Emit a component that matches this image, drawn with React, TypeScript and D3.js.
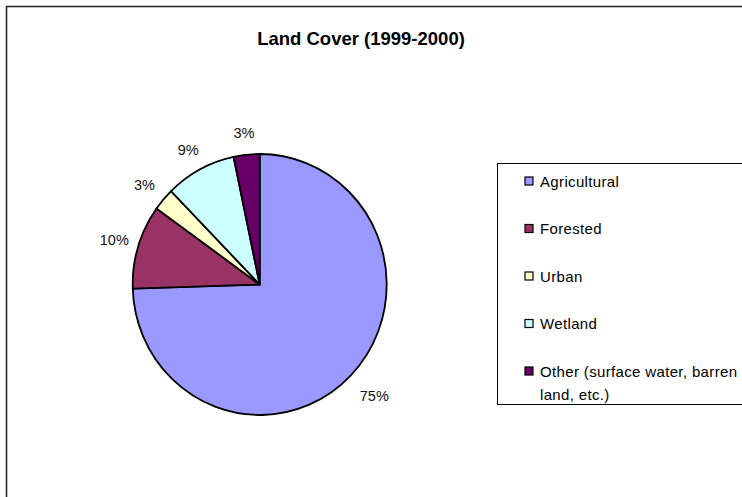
import React from 'react';
import * as d3 from 'd3';

const categories = ['Agricultural', 'Forested', 'Urban', 'Wetland', 'Other (surface water, barren land, etc.)'];
const shares = [74.5, 10.4, 2.8, 9.0, 3.3];
const sliceColors = ['#9999FF', '#993366', '#FFFFCC', '#CCFFFF', '#660066'];
const legendLines = [['Agricultural'], ['Forested'], ['Urban'], ['Wetland'], ['Other (surface water, barren', 'land, etc.)']];

interface Slice {
  name: string;
  value: number;
  color: string;
}

const W = 742;
const H = 497;

const App: React.FC = () => {
  const ref = React.useRef<SVGSVGElement>(null);

  React.useEffect(() => {
    document.body.style.margin = '0';
    if (!ref.current) return;
    const svg = d3.select(ref.current);
    svg.selectAll('*').remove();

    const font = '"Liberation Sans", Arial, sans-serif';

    // chart frame (right and bottom run off the page)
    svg.append('rect')
      .attr('x', 6.5).attr('y', 6.5)
      .attr('width', W + 20).attr('height', H + 20)
      .attr('fill', '#fff')
      .attr('stroke', '#2a2a2a')
      .attr('stroke-width', 1.6);

    svg.append('text')
      .attr('x', 361).attr('y', 45)
      .attr('text-anchor', 'middle')
      .style('font-family', font)
      .style('font-weight', 'bold')
      .style('font-size', '18.5px')
      .text('Land Cover (1999-2000)');

    const data: Slice[] = categories.map((c, i) => ({ name: c, value: shares[i], color: sliceColors[i] }));

    const cx = 259.7;
    const cy = 284.5;
    const rx = 127;
    const ry = 130.5;

    const pie = d3.pie<Slice>().sort(null).value(d => d.value).startAngle(0);
    const arcs = pie(data);

    const arc = d3.arc<d3.PieArcDatum<Slice>>().innerRadius(0).outerRadius(rx);

    const g = svg.append('g')
      .attr('transform', `translate(${cx},${cy}) scale(1,${ry / rx})`);

    g.selectAll('path')
      .data(arcs)
      .join('path')
      .attr('d', arc)
      .attr('fill', d => d.data.color)
      .attr('stroke', '#000')
      .attr('stroke-width', 1.8)
      .attr('stroke-linejoin', 'round');

    // outside-end labels
    const labelR = 152;
    const labelArc = d3.arc<d3.PieArcDatum<Slice>>().innerRadius(labelR).outerRadius(labelR);

    svg.append('g')
      .attr('transform', `translate(${cx},${cy})`)
      .selectAll('text')
      .data(arcs)
      .join('text')
      .attr('transform', d => {
        const [x, y] = labelArc.centroid(d);
        const extra = d.data.value > 50 ? 1.05 : 1;
        return `translate(${x * extra},${y * extra})`;
      })
      .attr('dy', '0.35em')
      .attr('text-anchor', 'middle')
      .style('font-family', font)
      .style('font-size', '14.5px')
      .attr('fill', '#111')
      .text(d => `${Math.round(d.data.value)}%`);

    // legend
    const legendX = 497.5;
    const legendTop = 163.5;
    const legendBottom = 404.5;
    const rowStep = 47.5;
    const firstRow = 181;

    svg.append('rect')
      .attr('x', legendX).attr('y', legendTop)
      .attr('width', W).attr('height', legendBottom - legendTop)
      .attr('fill', '#fff')
      .attr('stroke', '#000')
      .attr('stroke-width', 1);

    const rows = svg.append('g')
      .selectAll('g')
      .data(data)
      .join('g')
      .attr('transform', (_, i) => `translate(0,${firstRow + i * rowStep})`);

    rows.append('rect')
      .attr('x', 525).attr('y', -4)
      .attr('width', 8).attr('height', 8)
      .attr('fill', d => d.color)
      .attr('stroke', '#000')
      .attr('stroke-width', 1.2);

    rows.append('text')
      .attr('x', 540)
      .attr('y', 5.5)
      .style('font-family', font)
      .style('font-size', '15px')
      .style('letter-spacing', '0.35px')
      .attr('fill', '#000')
      .each(function (_, i) {
        d3.select(this)
          .selectAll('tspan')
          .data(legendLines[i])
          .join('tspan')
          .attr('x', 540)
          .attr('dy', (_, j) => (j === 0 ? 0 : 23))
          .text(t => t);
      });
  }, []);

  return <svg ref={ref} width={W} height={H} style={{ display: 'block', background: '#fff' }} />;
};

export default App;
